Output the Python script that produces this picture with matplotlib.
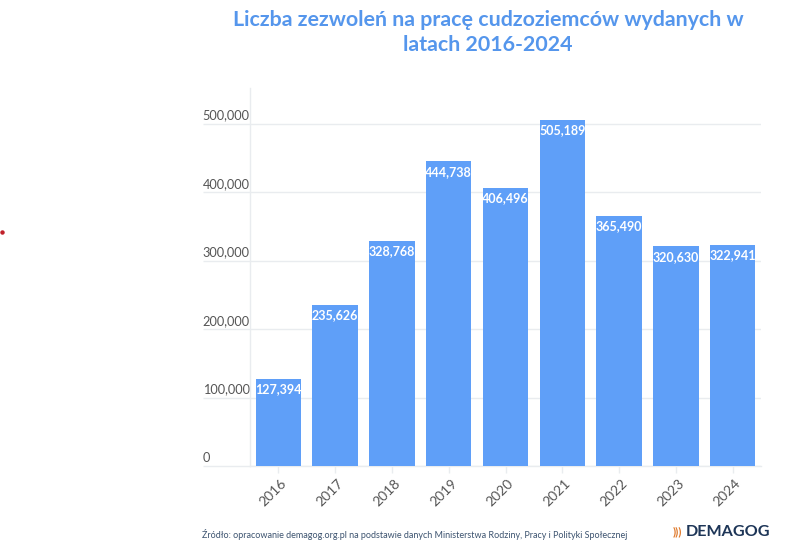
import matplotlib
matplotlib.use("Agg")
import matplotlib.pyplot as plt
from matplotlib.transforms import ScaledTranslation

years = ["2016", "2017", "2018", "2019", "2020", "2021", "2022", "2023", "2024"]
permits = [127394, 235626, 328768, 444738, 406496, 505189, 365490, 320630, 322941]
yticks = [0, 100000, 200000, 300000, 400000, 500000]

W, H = 788, 549
BLUE = "#5f9ff8"
GRID = "#e9ecef"

plt.rcParams["font.family"] = ["Lato", "DejaVu Sans"]

fig = plt.figure(figsize=(W / 100, H / 100), dpi=100)
# axes box in pixels: x 250-761, y 88-466
ax = fig.add_axes([250 / W, 1 - 466 / H, 511 / W, 378 / H])

x = list(range(len(years)))
ax.bar(x, permits, width=0.8, color=BLUE, zorder=3)
ax.set_xlim(-0.5, 8.5)
ax.set_ylim(0, 552000)

for xi, v in zip(x, permits):
    ax.annotate(f"{v:,}", (xi, v), xytext=(0, -3), textcoords="offset points",
                ha="center", va="top", color="white", fontsize=9,
                fontweight="bold", zorder=4)

ax.set_yticks(yticks)
ax.set_yticklabels([f"{v:,}" for v in yticks], fontsize=9.2, color="#555555")
ax.tick_params(axis="y", length=34, width=1, color=GRID, pad=0)
ax.grid(axis="y", color=GRID, linewidth=1, zorder=0)
ax.set_axisbelow(True)

ax.set_xticks(x)
ax.set_xticklabels(years, rotation=45, ha="right", va="top", fontsize=10,
                   color="#555555", rotation_mode="anchor")
ax.tick_params(axis="x", length=5, width=1, color=GRID, pad=3)

for side in ["top", "right"]:
    ax.spines[side].set_visible(False)
for side in ["left", "bottom"]:
    ax.spines[side].set_color(GRID)
    ax.spines[side].set_linewidth(1)

# y labels sit on top of the extended tick lines, left aligned
up = ScaledTranslation(0, 2 / 100, fig.dpi_scale_trans)
for lbl in ax.get_yticklabels():
    lbl.set_ha("left")
    lbl.set_va("bottom")
    lbl.set_transform(lbl.get_transform() + up)

# shift year labels a touch to the right
right = ScaledTranslation(2 / 100, 0, fig.dpi_scale_trans)
for lbl in ax.get_xticklabels():
    lbl.set_transform(lbl.get_transform() + right)

fig.text(488 / W, 1 - 20 / H, "Liczba zezwoleń na pracę cudzoziemców wydanych w",
         ha="center", va="center", fontsize=15.4, fontweight="bold", color="#5596ec")
fig.text(488 / W, 1 - 45 / H, "latach 2016-2024",
         ha="center", va="center", fontsize=15.4, fontweight="bold", color="#5596ec")

fig.text(202 / W, 1 - 534 / H,
         "Źródło: opracowanie demagog.org.pl na podstawie danych Ministerstwa Rodziny, Pracy i Polityki Społecznej",
         ha="left", va="center", fontsize=6.5, color="#3d5470")

fig.text(673 / W, 1 - 532 / H, ")))", ha="left", va="center", fontsize=8,
         fontweight="bold", color="#e07b2e")
fig.text(686 / W, 1 - 532 / H, "DEMAGOG", ha="left", va="center", fontsize=11.6,
         fontweight="bold", color="#1d3557")

# small red dot on the left edge
fig.add_artist(plt.Line2D([2 / W], [1 - 232 / H], marker="o", markersize=2.2,
                          color="#c0202a", transform=fig.transFigure))

fig.savefig("out.png", dpi=100)
plt.close(fig)
